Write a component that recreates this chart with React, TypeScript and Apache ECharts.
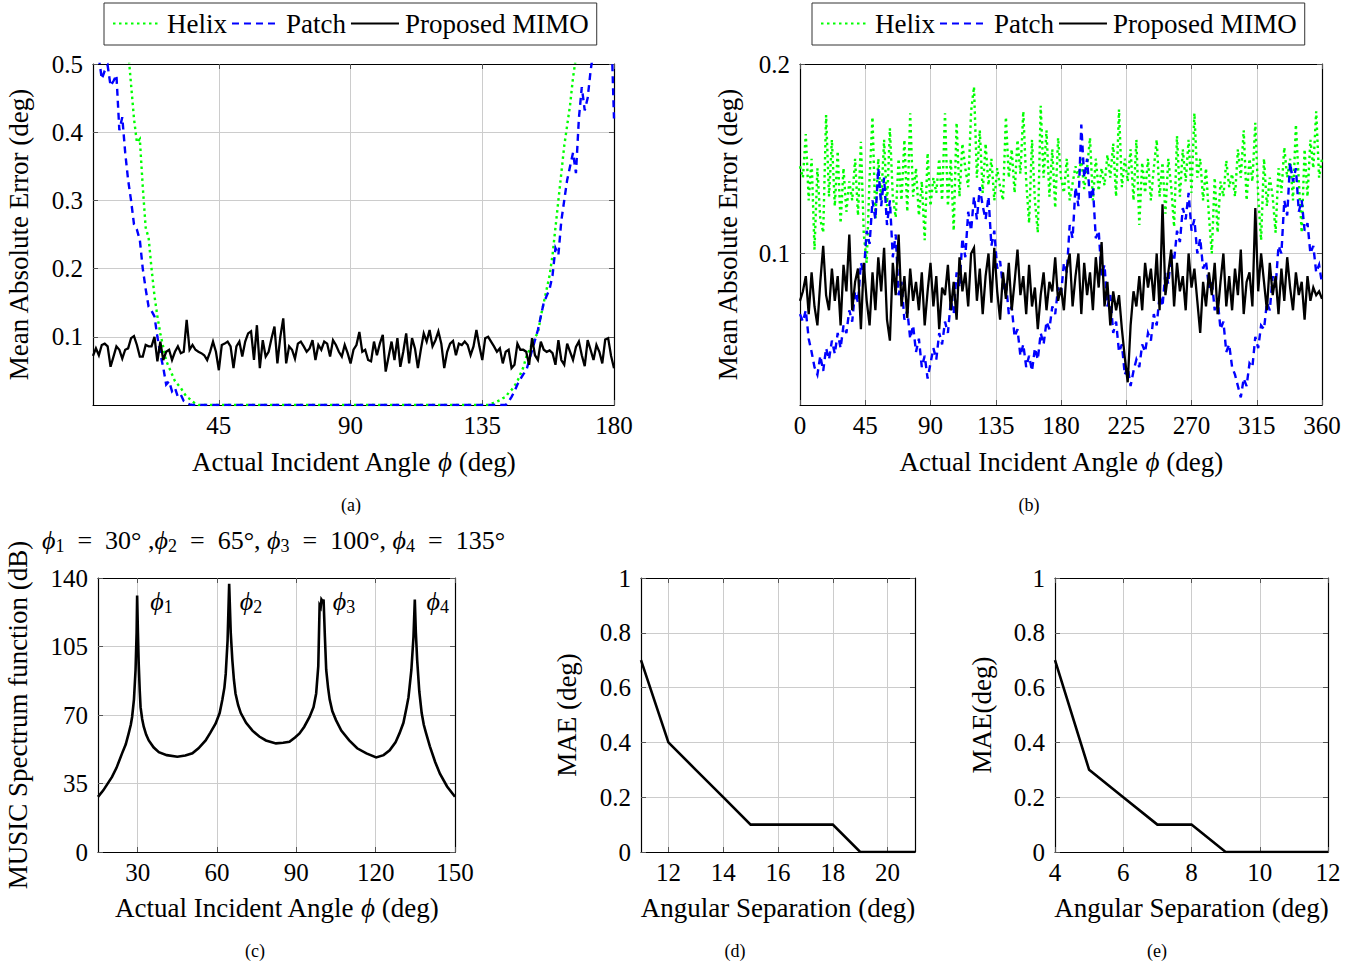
import React, { useEffect, useRef } from "react";
import * as echarts from "echarts";

const FONT = "'Liberation Serif', 'Times New Roman', serif";
const FS = 25; // tick labels
const NFS = 27; // axis names, legend

// ---------- Panel (a): MAE vs incident angle, 0..180 ----------
const A_START = 2; // first angle (deg), step 1
const aMimo = [
  0.072, 0.083, 0.073, 0.088, 0.090, 0.086, 0.056, 0.071, 0.086, 0.081,
  0.068, 0.081, 0.083, 0.098, 0.101, 0.088, 0.071, 0.071, 0.088, 0.086,
  0.086, 0.100, 0.064, 0.093, 0.066, 0.078, 0.081, 0.066, 0.078, 0.086,
  0.076, 0.078, 0.125, 0.081, 0.088, 0.081, 0.078, 0.076, 0.073, 0.066,
  0.078, 0.093, 0.078, 0.051, 0.088, 0.090, 0.093, 0.086, 0.054, 0.086,
  0.093, 0.071, 0.093, 0.105, 0.108, 0.066, 0.117, 0.054, 0.095, 0.071,
  0.078, 0.098, 0.115, 0.061, 0.100, 0.127, 0.061, 0.086, 0.081, 0.068,
  0.090, 0.093, 0.086, 0.078, 0.083, 0.095, 0.066, 0.088, 0.081, 0.093,
  0.090, 0.071, 0.095, 0.088, 0.078, 0.071, 0.088, 0.076, 0.061, 0.081,
  0.088, 0.107, 0.078, 0.081, 0.066, 0.064, 0.093, 0.073, 0.090, 0.103,
  0.049, 0.071, 0.093, 0.066, 0.098, 0.056, 0.078, 0.105, 0.061, 0.098,
  0.083, 0.054, 0.081, 0.105, 0.093, 0.110, 0.086, 0.095, 0.108, 0.090,
  0.054, 0.078, 0.090, 0.094, 0.073, 0.090, 0.088, 0.093, 0.088, 0.073,
  0.086, 0.110, 0.086, 0.066, 0.098, 0.100, 0.093, 0.086, 0.078, 0.083,
  0.061, 0.078, 0.081, 0.054, 0.059, 0.090, 0.081, 0.081, 0.078, 0.059,
  0.098, 0.073, 0.066, 0.093, 0.081, 0.078, 0.080, 0.076, 0.059, 0.095,
  0.066, 0.059, 0.090, 0.078, 0.066, 0.085, 0.093, 0.073, 0.057, 0.095,
  0.081, 0.066, 0.088, 0.078, 0.061, 0.096, 0.098, 0.072, 0.054,
];
const aHelixAngles = [
  2, 13, 14, 15, 16, 17, 18, 19, 20, 21, 22, 23, 24, 25, 26, 27, 28, 29, 30, 31, 32, 33, 34, 35, 36, 37, 38,
  137, 138, 139, 140, 141, 142, 143, 144, 145, 146, 147, 148, 149, 150, 151, 152, 153, 154, 155, 156, 157,
  158, 159, 160, 161, 162, 163, 164, 165, 166, 167, 168, 180,
];
const aHelixMae = [
  0.62, 0.56, 0.52, 0.47, 0.42, 0.385, 0.39, 0.32, 0.26, 0.245, 0.2, 0.16, 0.13, 0.105, 0.085, 0.065, 0.055,
  0.045, 0.035, 0.03, 0.025, 0.018, 0.012, 0.009, 0.005, 0.002, 0,
  0, 0.002, 0.003, 0.005, 0.007, 0.01, 0.012, 0.018, 0.022, 0.028, 0.035, 0.045, 0.055, 0.07, 0.08, 0.09,
  0.1, 0.105, 0.13, 0.15, 0.17, 0.19, 0.22, 0.26, 0.3, 0.34, 0.38, 0.41, 0.44, 0.48, 0.51, 0.56, 0.7,
];
const aPatchAngles = [
  2, 3, 4, 5, 6, 7, 8, 9, 10, 11, 12, 13, 14, 15, 16, 17, 18, 19, 20, 21, 22, 23, 24, 25, 26, 27, 28, 29,
  30, 31, 32, 33, 34, 35, 36,
  143, 144, 145, 146, 147, 148, 149, 150, 151, 152, 153, 154, 155, 156, 157, 158, 159, 160, 161, 162, 163,
  164, 165, 166, 167, 168, 169, 170, 171, 172, 173, 174, 179, 180,
];
const aPatchMae = [
  0.58, 0.55, 0.51, 0.478, 0.49, 0.498, 0.468, 0.475, 0.484, 0.403, 0.422, 0.37, 0.33, 0.3, 0.265, 0.257,
  0.242, 0.2, 0.17, 0.144, 0.138, 0.13, 0.1, 0.075, 0.055, 0.03, 0.035, 0.02, 0.025, 0.012, 0.015, 0.006,
  0.003, 0.001, 0,
  0, 0.005, 0.012, 0.02, 0.03, 0.038, 0.045, 0.05, 0.065, 0.08, 0.095, 0.11, 0.13, 0.15, 0.16, 0.17, 0.19,
  0.23, 0.22, 0.27, 0.3, 0.33, 0.35, 0.37, 0.34, 0.42, 0.466, 0.432, 0.45, 0.49, 0.52, 0.55, 0.56, 0.42,
];

// ---------- Panel (b): MAE vs incident angle, 0..360 (step 2) ----------
const B_START = 0;
const B_STEP = 2;
const bHelix = [
  0.146, 0.140, 0.163, 0.128, 0.150, 0.102, 0.145, 0.118, 0.111, 0.173,
  0.130, 0.160, 0.125, 0.154, 0.116, 0.145, 0.122, 0.138, 0.128, 0.150,
  0.120, 0.159, 0.110, 0.095, 0.140, 0.172, 0.118, 0.150, 0.128, 0.160,
  0.125, 0.166, 0.130, 0.119, 0.150, 0.128, 0.160, 0.122, 0.174, 0.130,
  0.145, 0.120, 0.138, 0.107, 0.153, 0.125, 0.140, 0.132, 0.150, 0.128,
  0.174, 0.125, 0.150, 0.112, 0.169, 0.130, 0.158, 0.145, 0.135, 0.175,
  0.188, 0.140, 0.165, 0.132, 0.158, 0.136, 0.150, 0.128, 0.145, 0.135,
  0.128, 0.172, 0.140, 0.155, 0.132, 0.160, 0.142, 0.175, 0.138, 0.116,
  0.160, 0.128, 0.111, 0.178, 0.140, 0.165, 0.130, 0.155, 0.124, 0.161,
  0.140, 0.132, 0.150, 0.128, 0.137, 0.146, 0.140, 0.150, 0.134, 0.145,
  0.161, 0.128, 0.150, 0.133, 0.145, 0.136, 0.152, 0.140, 0.158, 0.130,
  0.176, 0.135, 0.150, 0.138, 0.155, 0.128, 0.160, 0.115, 0.148, 0.132,
  0.150, 0.128, 0.145, 0.160, 0.130, 0.148, 0.121, 0.150, 0.135, 0.114,
  0.162, 0.130, 0.155, 0.138, 0.160, 0.132, 0.174, 0.140, 0.150, 0.128,
  0.145, 0.120, 0.100, 0.140, 0.111, 0.138, 0.130, 0.149, 0.135, 0.142,
  0.130, 0.155, 0.140, 0.165, 0.128, 0.150, 0.138, 0.169, 0.130, 0.107,
  0.150, 0.125, 0.140, 0.130, 0.111, 0.145, 0.132, 0.156, 0.140, 0.150,
  0.128, 0.168, 0.138, 0.111, 0.155, 0.130, 0.160, 0.145, 0.175, 0.140,
  0.150,
];
const bPatch = [
  0.068, 0.064, 0.070, 0.055, 0.048, 0.040, 0.036, 0.046, 0.038, 0.050,
  0.044, 0.054, 0.047, 0.058, 0.050, 0.062, 0.058, 0.070, 0.064, 0.080,
  0.074, 0.095, 0.090, 0.112, 0.105, 0.128, 0.118, 0.145, 0.125, 0.140,
  0.115, 0.128, 0.098, 0.110, 0.078, 0.085, 0.065, 0.070, 0.055, 0.062,
  0.048, 0.055, 0.040, 0.046, 0.034, 0.042, 0.050, 0.044, 0.058, 0.052,
  0.064, 0.058, 0.075, 0.068, 0.090, 0.082, 0.108, 0.098, 0.122, 0.112,
  0.130, 0.118, 0.135, 0.125, 0.118, 0.130, 0.104, 0.112, 0.092, 0.096,
  0.082, 0.085, 0.068, 0.072, 0.056, 0.060, 0.046, 0.052, 0.040, 0.046,
  0.038, 0.050, 0.044, 0.058, 0.052, 0.064, 0.060, 0.072, 0.068, 0.082,
  0.078, 0.095, 0.090, 0.115, 0.108, 0.135, 0.125, 0.168, 0.140, 0.150,
  0.128, 0.135, 0.108, 0.112, 0.088, 0.094, 0.072, 0.078, 0.058, 0.064,
  0.048, 0.052, 0.036, 0.040, 0.030, 0.038, 0.044, 0.040, 0.052, 0.048,
  0.058, 0.054, 0.068, 0.062, 0.078, 0.072, 0.090, 0.084, 0.100, 0.096,
  0.112, 0.106, 0.124, 0.118, 0.132, 0.112, 0.118, 0.100, 0.108, 0.092,
  0.096, 0.082, 0.086, 0.070, 0.076, 0.060, 0.064, 0.048, 0.052, 0.040,
  0.036, 0.030, 0.024, 0.034, 0.030, 0.042, 0.040, 0.056, 0.050, 0.062,
  0.060, 0.074, 0.070, 0.088, 0.082, 0.104, 0.100, 0.128, 0.120, 0.148,
  0.138, 0.145, 0.122, 0.128, 0.112, 0.116, 0.100, 0.104, 0.090, 0.094,
  0.084,
];
const bMimo = [
  0.075, 0.080, 0.088, 0.068, 0.090, 0.072, 0.062, 0.085, 0.104, 0.078,
  0.070, 0.092, 0.075, 0.088, 0.062, 0.094, 0.080, 0.110, 0.070, 0.085,
  0.092, 0.060, 0.095, 0.075, 0.062, 0.090, 0.070, 0.098, 0.080, 0.103,
  0.065, 0.054, 0.095, 0.078, 0.110, 0.072, 0.088, 0.066, 0.092, 0.075,
  0.085, 0.070, 0.090, 0.062, 0.080, 0.095, 0.072, 0.088, 0.060, 0.082,
  0.078, 0.094, 0.070, 0.085, 0.065, 0.098, 0.080, 0.090, 0.072, 0.100,
  0.103, 0.075, 0.092, 0.068, 0.088, 0.100, 0.074, 0.103, 0.080, 0.065,
  0.090, 0.076, 0.095, 0.070, 0.085, 0.102, 0.078, 0.088, 0.068, 0.094,
  0.072, 0.082, 0.060, 0.078, 0.090, 0.070, 0.085, 0.080, 0.098, 0.075,
  0.082, 0.070, 0.092, 0.100, 0.072, 0.088, 0.100, 0.068, 0.095, 0.078,
  0.090, 0.070, 0.098, 0.082, 0.106, 0.072, 0.085, 0.062, 0.080, 0.070,
  0.078, 0.060, 0.045, 0.032, 0.062, 0.080, 0.072, 0.088, 0.070, 0.095,
  0.082, 0.092, 0.075, 0.100, 0.070, 0.126, 0.078, 0.090, 0.102, 0.072,
  0.095, 0.080, 0.088, 0.070, 0.100, 0.082, 0.092, 0.075, 0.058, 0.085,
  0.072, 0.090, 0.078, 0.095, 0.068, 0.085, 0.100, 0.072, 0.088, 0.070,
  0.092, 0.078, 0.102, 0.068, 0.085, 0.090, 0.072, 0.124, 0.080, 0.100,
  0.085, 0.070, 0.095, 0.078, 0.088, 0.068, 0.092, 0.075, 0.098, 0.082,
  0.070, 0.090, 0.078, 0.085, 0.065, 0.088, 0.075, 0.082, 0.078, 0.080,
  0.076,
];

// ---------- Panel (c): MUSIC spectrum ----------
const cAngles = [
  15, 17, 20.3, 22, 24.1, 25.5, 26.6, 27.4, 27.9, 28.6, 29.2, 29.6, 29.8, 30.1, 30.4, 30.8, 31.1, 31.7,
  32.3, 33.2, 34.2, 36, 38, 41, 45, 48, 50.7, 53, 55.7, 57.5, 59.5, 61, 62, 62.8, 63.3, 64, 64.6, 65.2,
  65.8, 66.4, 67, 68, 69, 71, 73.4, 76, 78.5, 82.3, 85, 87.4, 89.5, 91.2, 93, 95, 96.5, 97.5, 98.3, 98.8,
  99.2, 99.5, 100, 100.3, 100.8, 101.3, 102, 102.6, 103.6, 105, 107, 110, 113, 116.5, 120.2, 123, 125.3,
  127.5, 129, 130.5, 131.7, 132.4, 132.8, 133.5, 134.3, 134.8, 135.2, 135.7, 136.5, 137.4, 138.2, 139,
  140.5, 142.5, 144.3, 147, 150,
];
const cSpectrum = [
  28.2, 31.5, 38.4, 43, 50.4, 55, 60.6, 65, 69, 78, 93, 112, 131, 112, 96, 82, 74, 68,
  64, 60, 57, 53.5, 51, 49.5, 48.7, 49.3, 50.4, 53, 57, 61, 65.7, 71, 77.7, 84, 91, 108, 137, 112,
  98, 88, 81, 75, 71, 66, 62, 59, 57, 55.5, 55.8, 56.3, 58.5, 60.6, 64, 69, 74, 81, 95, 126,
  125, 129, 128, 129, 110, 93, 84, 78, 72, 67.4, 62, 57, 53, 50.4, 48.3, 49.5, 52,
  56, 60.6, 66, 74, 79, 84, 93, 110, 129, 112, 98, 82, 71, 65, 61,
  54, 46, 40, 33.5, 28.2,
];
const cPeakNames = ["1", "2", "3", "4"];
const cPeakLabelAngles = [34.8, 68.6, 103.8, 139.2];
const cPeakLabelLevel = 128;

// ---------- Panels (d), (e): MAE vs angular separation ----------
const dSeparation = [11, 12, 13, 14, 15, 16, 17, 18, 19, 20, 21];
const dMae = [0.7, 0.4, 0.3, 0.2, 0.1, 0.1, 0.1, 0.1, 0, 0, 0];
const eSeparation = [4, 5, 6, 7, 8, 9, 10, 11, 12];
const eMae = [0.7, 0.3, 0.2, 0.1, 0.1, 0, 0, 0, 0];

// tick values
const aXTicks = [45, 90, 135, 180];
const aYTicks = [0.1, 0.2, 0.3, 0.4, 0.5];
const bXTicks = [0, 45, 90, 135, 180, 225, 270, 315, 360];
const bYTicks = [0.1, 0.2];
const cXTicks = [30, 60, 90, 120, 150];
const dXTicks = [12, 14, 16, 18, 20];

const NAMES = ["Helix", "Patch", "Proposed MIMO"];
const GREEN = "#00ff00";
const BLUE = "#0000ff";

const richName = {
  i: { fontFamily: FONT, fontSize: NFS, fontStyle: "italic", color: "#000" },
};
const richPhi = {
  p: { fontFamily: FONT, fontSize: 26, fontStyle: "italic", color: "#000", fill: "#000", lineHeight: 30 },
  s: { fontFamily: FONT, fontSize: 18, color: "#000", fill: "#000", verticalAlign: "bottom" },
  t: { fontFamily: FONT, fontSize: 26, color: "#000", fill: "#000", lineHeight: 30 },
};

type AxCfg = {
  min: number;
  max: number;
  interval?: number;
  ticks?: number[];
  name?: string;
  nameGap?: number;
};

function makeAxes(dim: "x" | "y", grid: number, cfg: AxCfg) {
  const base: any = { type: "value", gridIndex: grid, min: cfg.min, max: cfg.max };
  if (cfg.interval) base.interval = cfg.interval;
  const tickCustom = cfg.ticks ? { customValues: cfg.ticks } : {};
  const tick = { show: true, inside: true, length: 5, lineStyle: { color: "#555", width: 1 }, ...tickCustom };
  const line = { show: true, onZero: false, lineStyle: { color: "#000", width: 1.2 } };
  const main: any = {
    ...base,
    position: dim === "x" ? "bottom" : "left",
    name: cfg.name,
    nameLocation: "middle",
    nameGap: cfg.nameGap,
    nameRotate: dim === "y" ? 90 : 0,
    nameTextStyle: { fontFamily: FONT, fontSize: NFS, color: "#000", rich: richName },
    axisLine: line,
    axisTick: tick,
    axisLabel: { fontFamily: FONT, fontSize: FS, color: "#000", margin: dim === "x" ? 8 : 10, ...tickCustom },
    splitLine: { show: true, lineStyle: { color: "#cccccc", width: 1 } },
  };
  const opp: any = {
    ...base,
    position: dim === "x" ? "top" : "right",
    axisLine: line,
    axisTick: tick,
    axisLabel: { show: false },
    splitLine: { show: false },
  };
  return [main, opp];
}

function lineSeries(name: string | undefined, grid: number, data: number[][], color: string, type: any, width: number) {
  return {
    type: "line",
    name,
    xAxisIndex: grid * 2,
    yAxisIndex: grid * 2,
    data,
    showSymbol: false,
    symbol: "none",
    clip: true,
    lineStyle: { color, width, type, cap: "butt", join: "miter" },
    itemStyle: { color },
    emphasis: { disabled: true },
    z: 3,
  };
}

function legendAt(left: number) {
  return {
    left,
    top: 3,
    data: NAMES,
    orient: "horizontal",
    padding: [7, 8, 8, 8],
    itemGap: 4,
    itemWidth: 48,
    itemHeight: 14,
    borderColor: "#333",
    borderWidth: 1,
    backgroundColor: "#fff",
    selectedMode: false,
    itemStyle: { opacity: 0, color: "rgba(0,0,0,0)", borderWidth: 0 },
    textStyle: { fontFamily: FONT, fontSize: NFS, color: "#000", padding: [0, 0, 0, 1] },
  };
}

export default function App() {
  const ref = useRef<HTMLDivElement>(null);
  useEffect(() => {
    if (!ref.current) return;
    const chart = echarts.init(ref.current, undefined, { renderer: "svg" });

    const grids = [
      { left: 93, top: 64, width: 521, height: 341 },
      { left: 800, top: 64, width: 522, height: 341 },
      { left: 98, top: 578, width: 357, height: 274 },
      { left: 641, top: 578, width: 274, height: 274 },
      { left: 1055, top: 578, width: 273, height: 274 },
    ].map((g) => ({ ...g, containLabel: false, outerBoundsMode: "none", show: false }));

    const xAxis = [
      ...makeAxes("x", 0, { min: A_START, max: 180, ticks: aXTicks, name: "Actual Incident Angle {i|ϕ} (deg)", nameGap: 43 }),
      ...makeAxes("x", 1, { min: 0, max: 360, ticks: bXTicks, name: "Actual Incident Angle {i|ϕ} (deg)", nameGap: 43 }),
      ...makeAxes("x", 2, { min: 15, max: 150, ticks: cXTicks, name: "Actual Incident Angle {i|ϕ} (deg)", nameGap: 42 }),
      ...makeAxes("x", 3, { min: 11, max: 21, ticks: dXTicks, name: "Angular Separation (deg)", nameGap: 42 }),
      ...makeAxes("x", 4, { min: 4, max: 12, interval: 2, name: "Angular Separation (deg)", nameGap: 42 }),
    ];
    const yAxis = [
      ...makeAxes("y", 0, { min: 0, max: 0.5, ticks: aYTicks, name: "Mean Absolute Error (deg)", nameGap: 61 }),
      ...makeAxes("y", 1, { min: 0.02, max: 0.2, ticks: bYTicks, name: "Mean Absolute Error (deg)", nameGap: 59 }),
      ...makeAxes("y", 2, { min: 0, max: 140, interval: 35, name: "MUSIC Spectrum function (dB)", nameGap: 67 }),
      ...makeAxes("y", 3, { min: 0, max: 1, interval: 0.2, name: "MAE (deg)", nameGap: 61 }),
      ...makeAxes("y", 4, { min: 0, max: 1, interval: 0.2, name: "MAE(deg)", nameGap: 60 }),
    ];

    const dotted = [2.5, 3.5];
    const dashed = [7, 5];

    const series: any[] = [
      lineSeries(NAMES[0], 0, aHelixAngles.map((x, i) => [x, aHelixMae[i]]), GREEN, dotted, 2.4),
      lineSeries(NAMES[1], 0, aPatchAngles.map((x, i) => [x, aPatchMae[i]]), BLUE, dashed, 2.4),
      lineSeries(NAMES[2], 0, aMimo.map((v, i) => [A_START + i, v]), "#000", "solid", 2.3),
      lineSeries(NAMES[0], 1, bHelix.map((v, i) => [B_START + i * B_STEP, v]), GREEN, dotted, 2.4),
      lineSeries(NAMES[1], 1, bPatch.map((v, i) => [B_START + i * B_STEP, v]), BLUE, dashed, 2.4),
      lineSeries(NAMES[2], 1, bMimo.map((v, i) => [B_START + i * B_STEP, v]), "#000", "solid", 2.3),
      {
        ...lineSeries(undefined, 2, cAngles.map((x, i) => [x, cSpectrum[i]]), "#000", "solid", 2.6),
        markPoint: {
          symbol: "circle",
          symbolSize: 0,
          silent: true,
          label: {
            show: true,
            position: "right",
            distance: 0,
            formatter: (p: any) => `{p|ϕ}{s|${p.name}}`,
            rich: richPhi,
          },
          data: cPeakNames.map((n, i) => ({ name: n, coord: [cPeakLabelAngles[i], cPeakLabelLevel] })),
        },
      },
      lineSeries(undefined, 3, dSeparation.map((x, i) => [x, dMae[i]]), "#000", "solid", 2.6),
      lineSeries(undefined, 4, eSeparation.map((x, i) => [x, eMae[i]]), "#000", "solid", 2.6),
    ];

    const caption = (text: string, x: number, y: number) => ({
      type: "text",
      x,
      y,
      silent: true,
      style: {
        text,
        fontFamily: FONT,
        fontSize: 18,
        fill: "#000",
        align: "center",
        verticalAlign: "middle",
        textAlign: "center",
        textVerticalAlign: "middle",
      },
    });

    const SP = "\u2002"; // en space: wide math spacing around "="
    const titleC = {
      type: "text",
      x: 42,
      y: 540,
      silent: true,
      style: {
        text:
          `{p|ϕ}{s|1}{t|${SP}=${SP}30° ,}{p|ϕ}{s|2}{t|${SP}=${SP}65°, }{p|ϕ}{s|3}{t|${SP}=${SP}100°, }{p|ϕ}{s|4}{t|${SP}=${SP}135°}`,
        fontFamily: FONT,
        fontSize: 26,
        fill: "#000",
        align: "left",
        verticalAlign: "middle",
        textAlign: "left",
        textVerticalAlign: "middle",
        rich: richPhi,
      },
    };

    chart.setOption({
      animation: false,
      backgroundColor: "#fff",
      textStyle: { fontFamily: FONT },
      grid: grids,
      xAxis,
      yAxis,
      legend: [legendAt(104), legendAt(812)],
      series,
      graphic: [
        caption("(a)", 351, 505),
        caption("(b)", 1029, 505),
        caption("(c)", 255, 951),
        caption("(d)", 735, 951),
        caption("(e)", 1157, 951),
        titleC,
      ],
    });
    return () => chart.dispose();
  }, []);

  return (
    <div
      ref={ref}
      style={{ position: "absolute", left: 0, top: 0, width: 1364, height: 967, background: "#fff" }}
    />
  );
}
